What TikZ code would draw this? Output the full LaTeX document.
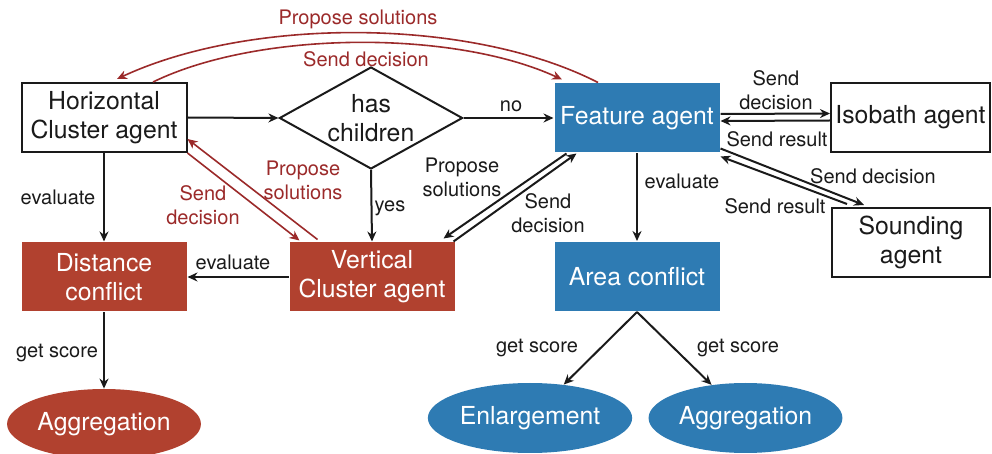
\documentclass[tikz,border=0pt]{standalone}
\usepackage{fontspec}
\setmainfont{TeX Gyre Heros}
\usetikzlibrary{arrows.meta,shapes.geometric}
\definecolor{ink}       {HTML}{1A1A1A}
\definecolor{clusterred}{HTML}{B1412F}
\definecolor{featblue}  {HTML}{2E7BB3}
\definecolor{msgred}    {HTML}{9B2A2A}
\newcommand{\agentfont}{\fontsize{12.4}{14.5}\selectfont}
\newcommand{\msgfont}{\fontsize{10}{12}\selectfont}
\tikzset{
  agent/.style    ={draw=ink, fill=white, line width=1pt,
                    minimum width=82.5pt, minimum height=34.5pt,
                    align=center, inner sep=2pt, text=ink, font=\agentfont},
  redbox/.style   ={agent, draw=none, fill=clusterred, text=white},
  bluebox/.style  ={agent, draw=none, fill=featblue, text=white},
  redoval/.style  ={ellipse, fill=clusterred, text=white, inner sep=1pt,
                    minimum width=93pt, minimum height=35pt, font=\agentfont},
  blueoval/.style ={redoval, fill=featblue},
  decision/.style ={diamond, draw=ink, line width=1pt, aspect=1.8,
                    minimum width=91pt, minimum height=51pt,
                    align=center, inner sep=1pt, text=ink, font=\agentfont},
  arr/.style      ={-{Stealth[length=5pt,width=4.5pt]}, line width=1pt, draw=ink},
  redarr/.style   ={-{Stealth[length=5pt,width=4.5pt]}, line width=0.8pt, draw=msgred},
  lbl/.style      ={font=\msgfont, text=ink, align=center, inner sep=0pt},
  redlbl/.style   ={lbl, text=msgred},
}

\begin{document}
\begin{tikzpicture}[x=0.5pt,y=-0.5pt]
  \useasboundingbox (0,0) rectangle (992,454);
  % agents, conflicts, scores
  \node[agent] (hca) at (104,117.5) {Horizontal\\Cluster agent};
  \node[decision] (kids) at (371,118) {has\\children};
  \node[bluebox] (fa) at (637,118) {Feature agent};
  \node[agent,minimum width=79.5pt] (iso) at (910.5,117.5) {Isobath agent};
  \node[agent,minimum width=79pt] (snd) at (911,242.5) {Sounding\\agent};
  \node[redbox] (dist) at (104,277) {Distance\\conflict};
  \node[redbox] (vca) at (372,277) {Vertical\\Cluster agent};
  \node[bluebox] (area) at (637,276.5) {Area conflict};
  \node[redoval] (aggl) at (104,424) {Aggregation};
  \node[blueoval] (enl) at (530,418) {Enlargement};
  \node[blueoval] (aggr) at (745.5,418) {Aggregation};

  % flow
  \draw[arr] (hca.east) -- (kids.west);
  \draw[arr] (kids.east) -- (fa.west);
  \draw[arr] (kids.south) -- (vca.north);
  \draw[arr] (hca.south) -- (dist.north);
  \draw[arr] (vca.west) -- (dist.east);
  \draw[arr] (dist.south) -- (aggl.north);
  \draw[arr] (fa.south) -- (area.north);
  \draw[arr] (area.south) -- (enl);
  \draw[arr] (area.south) -- (aggr);

  % messages
  \draw[arr] ([yshift=2pt]fa.east) -- ([yshift=2pt]iso.west);
  \draw[arr] ([yshift=-1.5pt]iso.west) -- ([yshift=-1.5pt]fa.east);
  \draw[arr] ([yshift=2.5pt]fa.south east) -- ([xshift=16.5pt,yshift=1pt]snd.north west);
  \draw[arr] ([xshift=8pt,yshift=1.5pt]snd.north west) -- ([yshift=-1.5pt]fa.south east);
  \draw[arr] ([xshift=-1pt]vca.north east) -- ([xshift=11.5pt]fa.south west);
  \draw[arr] ([xshift=6.5pt]fa.south west) -- ([xshift=-6pt,yshift=1.5pt]vca.north east);
  \draw[redarr] ([xshift=14.5pt,yshift=1pt]vca.north west) -- ([yshift=7pt]hca.south east);
  \draw[redarr] (hca.south east) -- ([xshift=5.5pt,yshift=0.5pt]vca.north west);
  \draw[redarr] ([xshift=-19.5pt]fa.north) .. controls (470,17) and (250,17) .. ([xshift=6.5pt,yshift=1.5pt]hca.north);
  \draw[redarr] ([xshift=24.5pt]hca.north) .. controls (260,30) and (455,30) .. ([xshift=-37.5pt,yshift=1.5pt]fa.north);

  % labels
  \node[redlbl] (propTop) at (358,19) {Propose solutions};
  \node[redlbl] (sendTop) at (366,59) {Send decision};
  \node[lbl] (noLbl) at (511,106) {no};
  \node[lbl] (yesLbl) at (390,208) {yes};
  \node[lbl] (evalH) at (58,197) {evaluate};
  \node[lbl] (evalV) at (233,262) {evaluate};
  \node[lbl] (scoreD) at (57,353) {get score};
  \node[lbl] (evalF) at (682,181) {evaluate};
  \node[lbl] (scoreE) at (537,348) {get score};
  \node[lbl] (scoreA) at (738,348) {get score};
  \node[lbl] (sendIso) at (776,90) {Send\\decision};
  \node[lbl] (resIso) at (777,139) {Send result};
  \node[lbl] (sendSnd) at (873,176) {Send decision};
  \node[lbl] (resSnd) at (775,206) {Send result};
  \node[lbl] (propV) at (462,177) {Propose\\solutions};
  \node[lbl] (sendV) at (548,213) {Send\\decision};
  \node[redlbl] (sendH) at (203,205) {Send\\decision};
  \node[redlbl] (propH) at (303,180) {Propose\\solutions};
\end{tikzpicture}
\end{document}
